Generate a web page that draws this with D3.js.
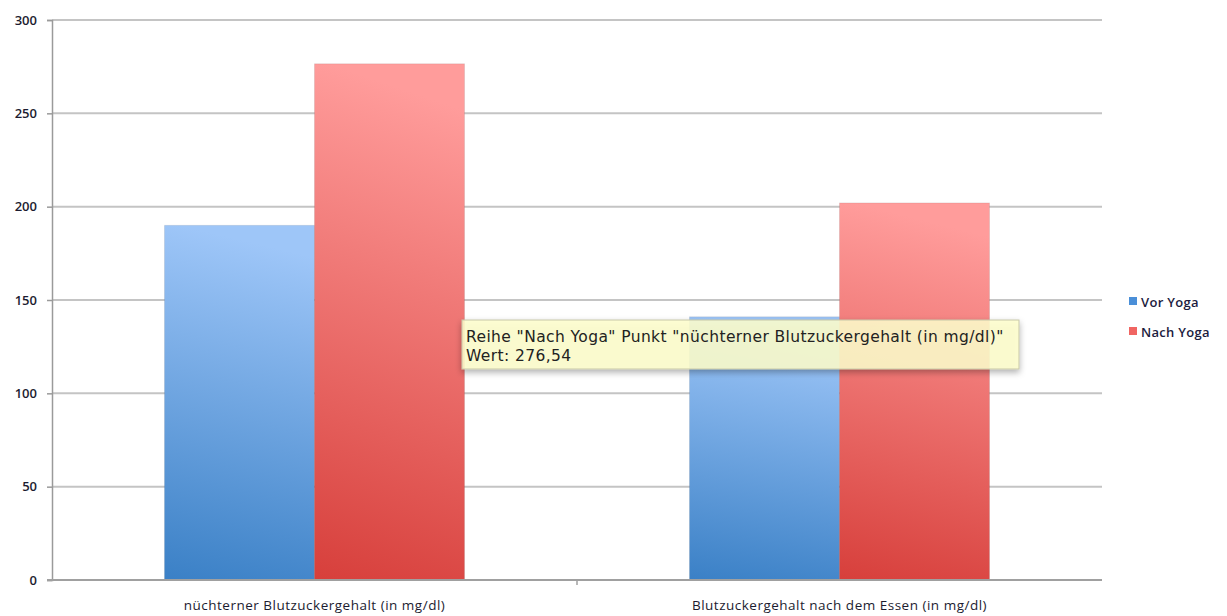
<!DOCTYPE html>
<meta charset="utf-8">
<style>
  body { margin: 0; background: #fff; }
  svg { display: block; }
  .tick text { font-family: "Open Sans", sans-serif; }
</style>
<body>
<script src="https://d3js.org/d3.v7.min.js"></script>
<script>

var categories = ["nüchterner Blutzuckergehalt (in mg/dl)", "Blutzuckergehalt nach dem Essen (in mg/dl)"];
var series = ["Vor Yoga", "Nach Yoga"];
var vorYoga = [190, 141];
var nachYoga = [276.54, 202];
var yTicks = [0, 50, 100, 150, 200, 250, 300];

var W = 1227, H = 616;
var m = {left: 52, right: 1102, top: 20, bottom: 580};

var svg = d3.select("body").append("svg")
    .attr("width", W)
    .attr("height", H);

var defs = svg.append("defs");
function grad(id, c1, c2) {
  var g = defs.append("linearGradient").attr("id", id)
      .attr("x1", "0.1").attr("y1", "0").attr("x2", "0").attr("y2", "1");
  g.append("stop").attr("offset", "0").attr("stop-color", c1);
  g.append("stop").attr("offset", "1").attr("stop-color", c2);
}
grad("g-vor", "#9ec6f8", "#3a80c6");
grad("g-nach", "#ff9c9b", "#d73f3b");

var shadow = defs.append("filter").attr("id", "sh")
    .attr("x", "-10%").attr("y", "-30%").attr("width", "120%").attr("height", "180%");
shadow.append("feDropShadow").attr("dx", 0).attr("dy", 3).attr("stdDeviation", 3)
    .attr("flood-color", "#000").attr("flood-opacity", 0.35);

var y = d3.scaleLinear().domain([0, 300]).range([m.bottom, m.top]);
var x0 = d3.scaleBand().domain(categories).range([m.left, m.right]);
var x1 = d3.scaleBand().domain(series).range([0, x0.bandwidth()]).paddingOuter(0.75);

// gridlines
svg.append("g").selectAll("line")
  .data(yTicks.filter(function(d){ return d > 0; }))
  .enter().append("line")
    .attr("x1", m.left).attr("x2", m.right)
    .attr("y1", function(d){ return y(d); })
    .attr("y2", function(d){ return y(d); })
    .attr("stroke", "#c4c4c4").attr("stroke-width", 2);

// y axis
var yaxis = svg.append("g")
    .attr("transform", "translate(" + m.left + ",0)")
    .call(d3.axisLeft(y).tickValues(yTicks).tickSize(5).tickPadding(10));
yaxis.select(".domain").attr("stroke", "#9a9a9a").attr("stroke-width", 1.5);
yaxis.selectAll(".tick line").attr("stroke", "#9a9a9a").attr("stroke-width", 1.5);
yaxis.selectAll(".tick text").attr("font-size", 13).attr("font-weight", 600).attr("fill", "#1c1c30");

// bars
var rows = categories.map(function(c, i){
  return { cat: c, vals: [ {s: series[0], v: vorYoga[i]}, {s: series[1], v: nachYoga[i]} ] };
});

var groups = svg.append("g").selectAll("g")
  .data(rows).enter().append("g")
    .attr("transform", function(d){ return "translate(" + x0(d.cat) + ",0)"; });

groups.selectAll("rect")
  .data(function(d){ return d.vals; })
  .enter().append("rect")
    .attr("x", function(d){ return x1(d.s); })
    .attr("y", function(d){ return y(d.v); })
    .attr("width", x1.bandwidth())
    .attr("height", function(d){ return y(0) - y(d.v); })
    .attr("fill", function(d){ return d.s == "Vor Yoga" ? "url(#g-vor)" : "url(#g-nach)"; })
    .attr("stroke", "rgba(0,0,0,0.08)").attr("stroke-width", 1);

// x axis
var xg = svg.append("g").attr("transform", "translate(0," + m.bottom + ")");
xg.append("line").attr("x1", m.left - 5).attr("x2", m.right).attr("y1", 0).attr("y2", 0)
    .attr("stroke", "#a0a0a0").attr("stroke-width", 2);
xg.append("line")
    .attr("x1", x0(categories[1])).attr("x2", x0(categories[1]))
    .attr("y1", 0).attr("y2", 5)
    .attr("stroke", "#a0a0a0").attr("stroke-width", 1.5);
xg.selectAll("text.cat").data(categories).enter().append("text")
    .attr("class", "cat")
    .attr("x", function(d){ return x0(d) + x0.bandwidth() / 2; })
    .attr("y", 30)
    .attr("text-anchor", "middle")
    .attr("font-family", "'Open Sans', sans-serif")
    .attr("font-size", 13.5)
    .attr("letter-spacing", 0.5)
    .attr("fill", "#1c1c30")
    .text(function(d){ return d; });

// legend
var colors = ["#4a8fd8", "#f06562"];
var lg = svg.append("g").selectAll("g").data(series).enter().append("g")
    .attr("transform", function(d, i){ return "translate(1129," + (297 + i * 30) + ")"; });
lg.append("rect").attr("width", 8).attr("height", 8)
    .attr("fill", function(d, i){ return colors[i]; });
lg.append("text").attr("x", 12).attr("y", 10)
    .attr("font-family", "'Open Sans', sans-serif")
    .attr("font-size", 13).attr("font-weight", 600).attr("letter-spacing", 0.3).attr("fill", "#1c1c40")
    .text(function(d){ return d; });

// tooltip
var tip = svg.append("g").attr("transform", "translate(462,320)");
tip.append("rect").attr("width", 557).attr("height", 49)
    .attr("fill", "rgba(255,255,205,0.85)").attr("stroke", "#c8c8a8")
    .attr("filter", "url(#sh)");
tip.selectAll("text")
  .data(["Reihe \"" + series[1] + "\" Punkt \"" + categories[0] + "\"",
         "Wert: " + String(nachYoga[0]).replace(".", ",")])
  .enter().append("text")
    .attr("x", 4).attr("y", function(d, i){ return 22 + i * 19; })
    .attr("font-family", "'DejaVu Sans', sans-serif").attr("font-size", 15.5)
    .attr("letter-spacing", 0.4).attr("fill", "#222")
    .text(function(d){ return d; });

</script>
</body>
